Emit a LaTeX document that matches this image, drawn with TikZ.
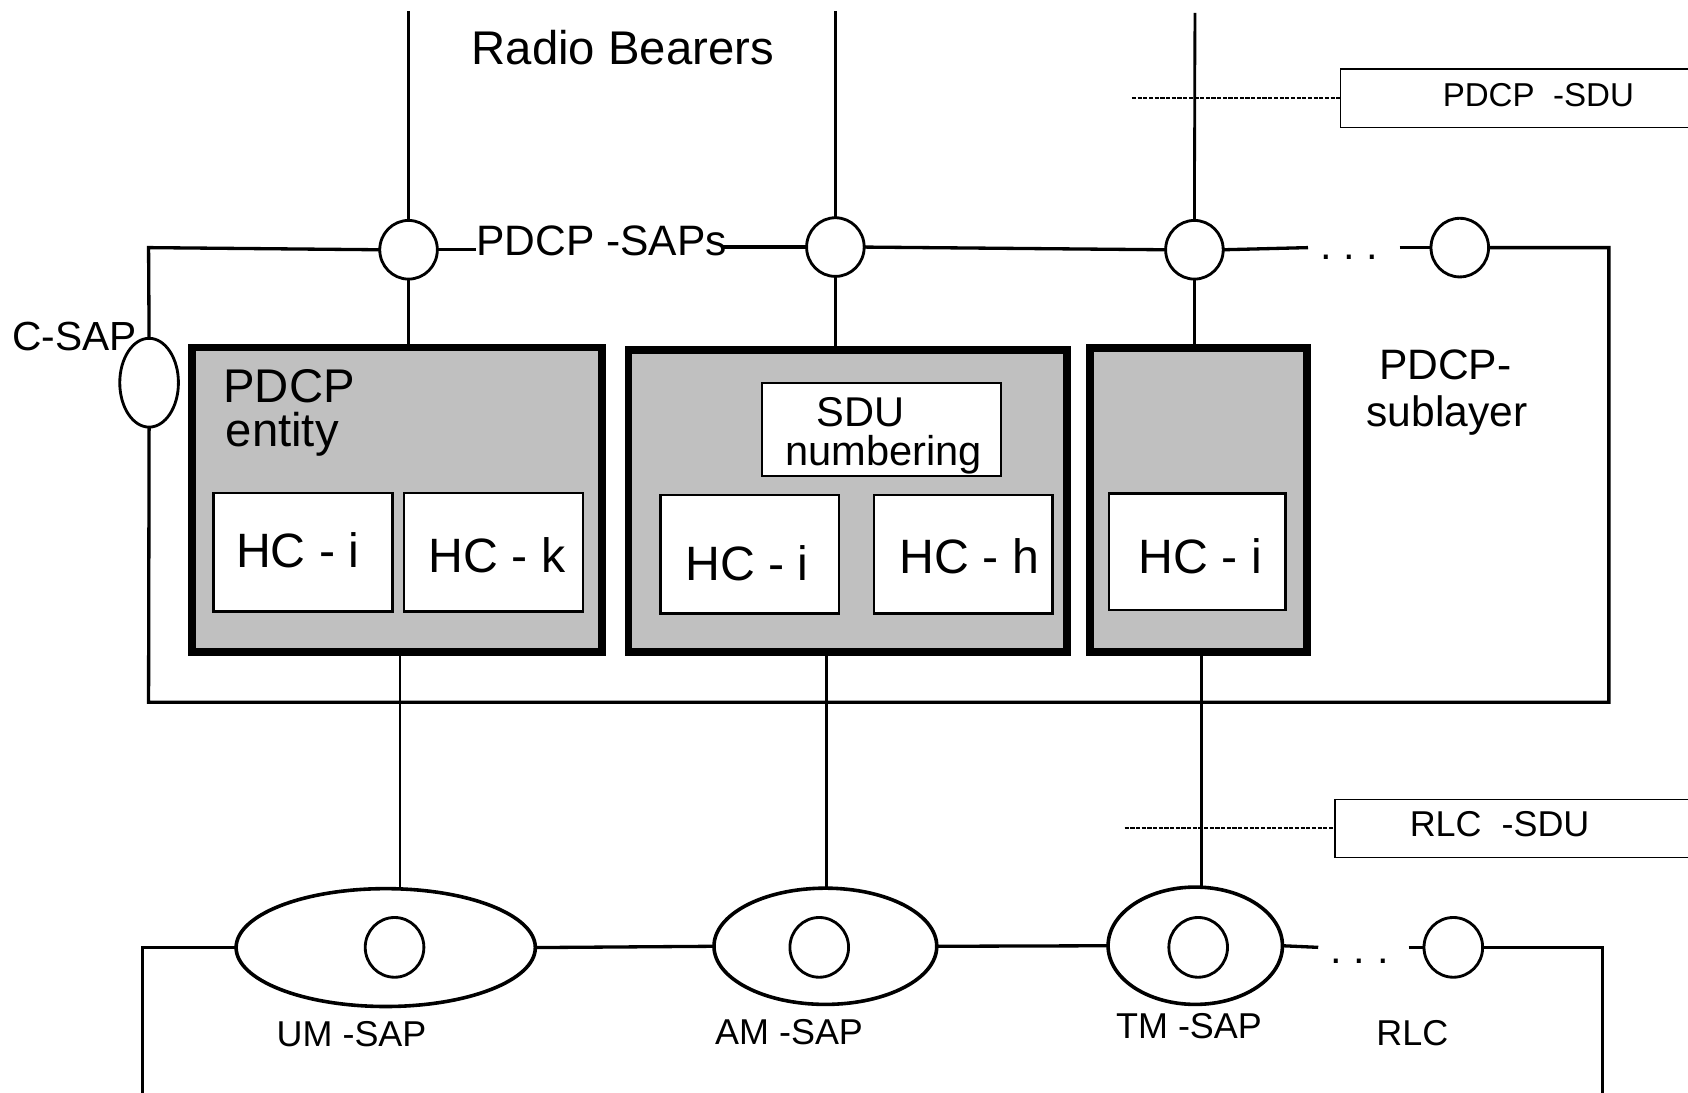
\documentclass[tikz,border=0pt]{standalone}
\usepackage{fontspec}
\setmainfont{Liberation Sans}
\usetikzlibrary{shapes.geometric}
\definecolor{boxgray}{RGB}{192,192,192}
\begin{document}
\begin{tikzpicture}[x=0.02cm,y=-0.02cm,
  fsz/.style={font=\fontsize{#1}{#1}\selectfont},
  txt/.style={inner sep=0pt, outer sep=0pt, anchor=base},
  frame/.style={line width=1.75pt},
  wire/.style={line width=1.2pt},
  bearer/.style={line width=1.5pt},
  sap/.style={ellipse, draw, line width=1.5pt, fill=white, inner sep=0pt, outer sep=0pt, minimum width=1.07cm, minimum height=1.09cm},
  entity/.style={rectangle, draw, line width=4.2pt, fill=boxgray, inner sep=0pt, outer sep=0pt},
  hcbox/.style={rectangle, draw, line width=1.3pt, fill=white, inner sep=0pt, outer sep=0pt, minimum width=3.32cm, minimum height=2.2cm},
  sdubox/.style={rectangle, draw, line width=0.8pt, fill=white, inner sep=0pt, outer sep=0pt},
  modesap/.style={ellipse, draw, line width=1.9pt, fill=white, inner sep=0pt, outer sep=0pt},
  pdu/.style={dash pattern=on 2.2pt off 0.8pt, line width=1.1pt}
]
\useasboundingbox (0,0) rectangle (1568,1015);

% ---------- SDU boxes (top right / middle right)
\node[sdubox, anchor=west, minimum width=7cm, minimum height=1.09cm] (pbox) at (1245,91.3) {};
\node[sdubox, anchor=west, minimum width=7cm, minimum height=1.08cm] (rbox) at (1240,769.5) {};
\node[txt, fsz=17.5] (tpsdu) at (1429,99) {PDCP\ \ -SDU};
\node[txt, fsz=19] (trsdu) at (1393,777) {RLC\ \ -SDU};

% ---------- PDCP SAPs (top)
\node[sap] (s1) at (379.5,232) {};
\node[sap] (s2) at (776,229.5) {};
\node[sap] (s3) at (1109.5,232) {};
\node[sap] (s4) at (1356,230) {};
\node[sap, minimum width=1.09cm, minimum height=1.65cm] (csap) at (138.5,355.5) {};

\coordinate (rb1) at (379.5,10);
\coordinate (rb2) at (776,10);
\coordinate (rb3) at (1110,12);
\draw[bearer] (rb1) -- (s1.north);
\draw[bearer] (rb2) -- (s2.north);
\draw[bearer] (rb3) -- (s3.north);

\coordinate (pd) at (1051.5,91.3);
\coordinate (rd) at (1044.7,769.5);
\draw[pdu] (pd) -- (pbox.west);
\draw[pdu] (rd) -- (rbox.west);

% ---------- labels
\node[txt, fsz=25] (tradio) at (578.6,60) {Radio Bearers};
\node[txt, fsz=22.5, anchor=base west] (sapl) at (442.5,237) {PDCP -SAPs};
\node[txt, fsz=21.5, anchor=base east] (tcsap) at (127,326) {C-SAP};
\node[txt, fsz=22.5, anchor=base west] (tsub1) at (1281,352.4) {PDCP-};
\node[txt, fsz=22.5, anchor=base west] (tsub2) at (1269.5,396.3) {sublayer};
\node[txt, fsz=22] (d1) at (1253,241) {.\ .\ .};

% ---------- PDCP sublayer frame
\coordinate (tl) at (138,230);
\coordinate (tr) at (1494.5,230);
\coordinate (brr) at (1494.5,652.4);
\coordinate (bll) at (138,652.4);
\coordinate (g1) at (1215,230);
\coordinate (g2) at (1300,230);
\draw[frame] (csap.north) -- (tl) -- (s1.west);
\draw[frame] (s1.east) -- (s1.east -| sapl.west);
\draw[frame] ([xshift=-0.12cm]sapl.east |- s2.west) -- (s2.west);
\draw[frame] (s2.east) -- (s3.west);
\draw[frame] (s3.east) -- (g1);
\draw[frame] (g2) -- (s4.west);
\draw[frame] (s4.east) -- (tr) -- (brr) -- (bll) -- (csap.south);

% ---------- PDCP entities
\node[entity, minimum width=7.62cm, minimum height=5.65cm] (e1) at (368.5,464) {};
\node[entity, minimum width=8.15cm, minimum height=5.61cm] (e2) at (787.5,465.2) {};
\node[entity, minimum width=4.04cm, minimum height=5.64cm] (e3) at (1113.2,464.3) {};

\draw[wire] (s1.south) -- (s1.south |- e1.north);
\draw[wire] (s2.south) -- (s2.south |- e2.north);
\draw[wire] (s3.south) -- (s3.south |- e3.north);

\node[txt, fsz=25, anchor=base west] (tent1) at (207.5,374) {PDCP};
\node[txt, fsz=25, anchor=base west] (tent2) at (209.7,415) {entity};

\node[sdubox, line width=1.1pt, minimum width=4.44cm, minimum height=1.74cm] (sdun) at (819,399) {};
\node[txt, fsz=22] (tsdu1) at (799.5,396) {SDU};
\node[txt, fsz=22] (tsdu2) at (821,432) {numbering};

\node[hcbox] (h1) at (281.5,512.9) {};
\node[hcbox] (h2) at (458.5,512.9) {};
\node[hcbox] (h3) at (696.5,514.8) {};
\node[hcbox] (h4) at (894.7,514.8) {};
\node[hcbox, minimum width=3.28cm, minimum height=2.16cm] (h5) at (1112,512.5) {};
\node[txt, fsz=25.5] (th1) at (276.5,527) {HC - i};
\node[txt, fsz=25.5] (th2) at (461.6,532) {HC - k};
\node[txt, fsz=25.5] (th3) at (694,539) {HC - i};
\node[txt, fsz=25.5] (th4) at (900.5,533) {HC - h};
\node[txt, fsz=25.5] (th5) at (1115,533) {HC - i};

% ---------- RLC SAPs (bottom)
\node[modesap, minimum width=5.56cm, minimum height=2.19cm] (um) at (358.3,880.2) {};
\node[modesap, minimum width=4.14cm, minimum height=2.16cm] (am) at (766.7,879) {};
\node[modesap, minimum width=3.24cm, minimum height=2.18cm] (tm) at (1110.3,878.5) {};
\node[sap, minimum width=1.09cm, minimum height=1.11cm] (u0) at (366.5,880) {};
\node[sap, minimum width=1.09cm, minimum height=1.11cm] (a0) at (761,880) {};
\node[sap, minimum width=1.09cm, minimum height=1.11cm] (t0) at (1113,880) {};
\node[sap, minimum width=1.09cm, minimum height=1.11cm] (r4) at (1350,880) {};

\draw[wire] (e1.south -| um.76) -- (um.76);
\draw[wire] (e2.south -| am.89) -- (am.89);
\draw[wire] (e3.south -| tm.84) -- (tm.84);

\coordinate (bl) at (132.2,1020);
\coordinate (br) at (1488.6,1020);
\coordinate (g3) at (1224.5,880);
\coordinate (g4) at (1308.5,880);
\draw[frame] (bl) -- (bl |- um.west) -- (um.west);
\draw[frame] (um.east) -- (am.west);
\draw[frame] (am.east) -- (tm.west);
\draw[frame] (tm.east) -- (g3);
\draw[frame] (g4) -- (r4.west);
\draw[frame] (r4.east) -- (br |- r4.east) -- (br);
\node[txt, fsz=22] (d2) at (1263,895) {.\ .\ .};

\node[txt, fsz=19] (tum) at (326.6,972) {UM -SAP};
\node[txt, fsz=19] (tam) at (733,970) {AM -SAP};
\node[txt, fsz=19] (ttm) at (1104.5,964.6) {TM -SAP};
\node[txt, fsz=19] (trlc) at (1312,971) {RLC};
\end{tikzpicture}
\end{document}
